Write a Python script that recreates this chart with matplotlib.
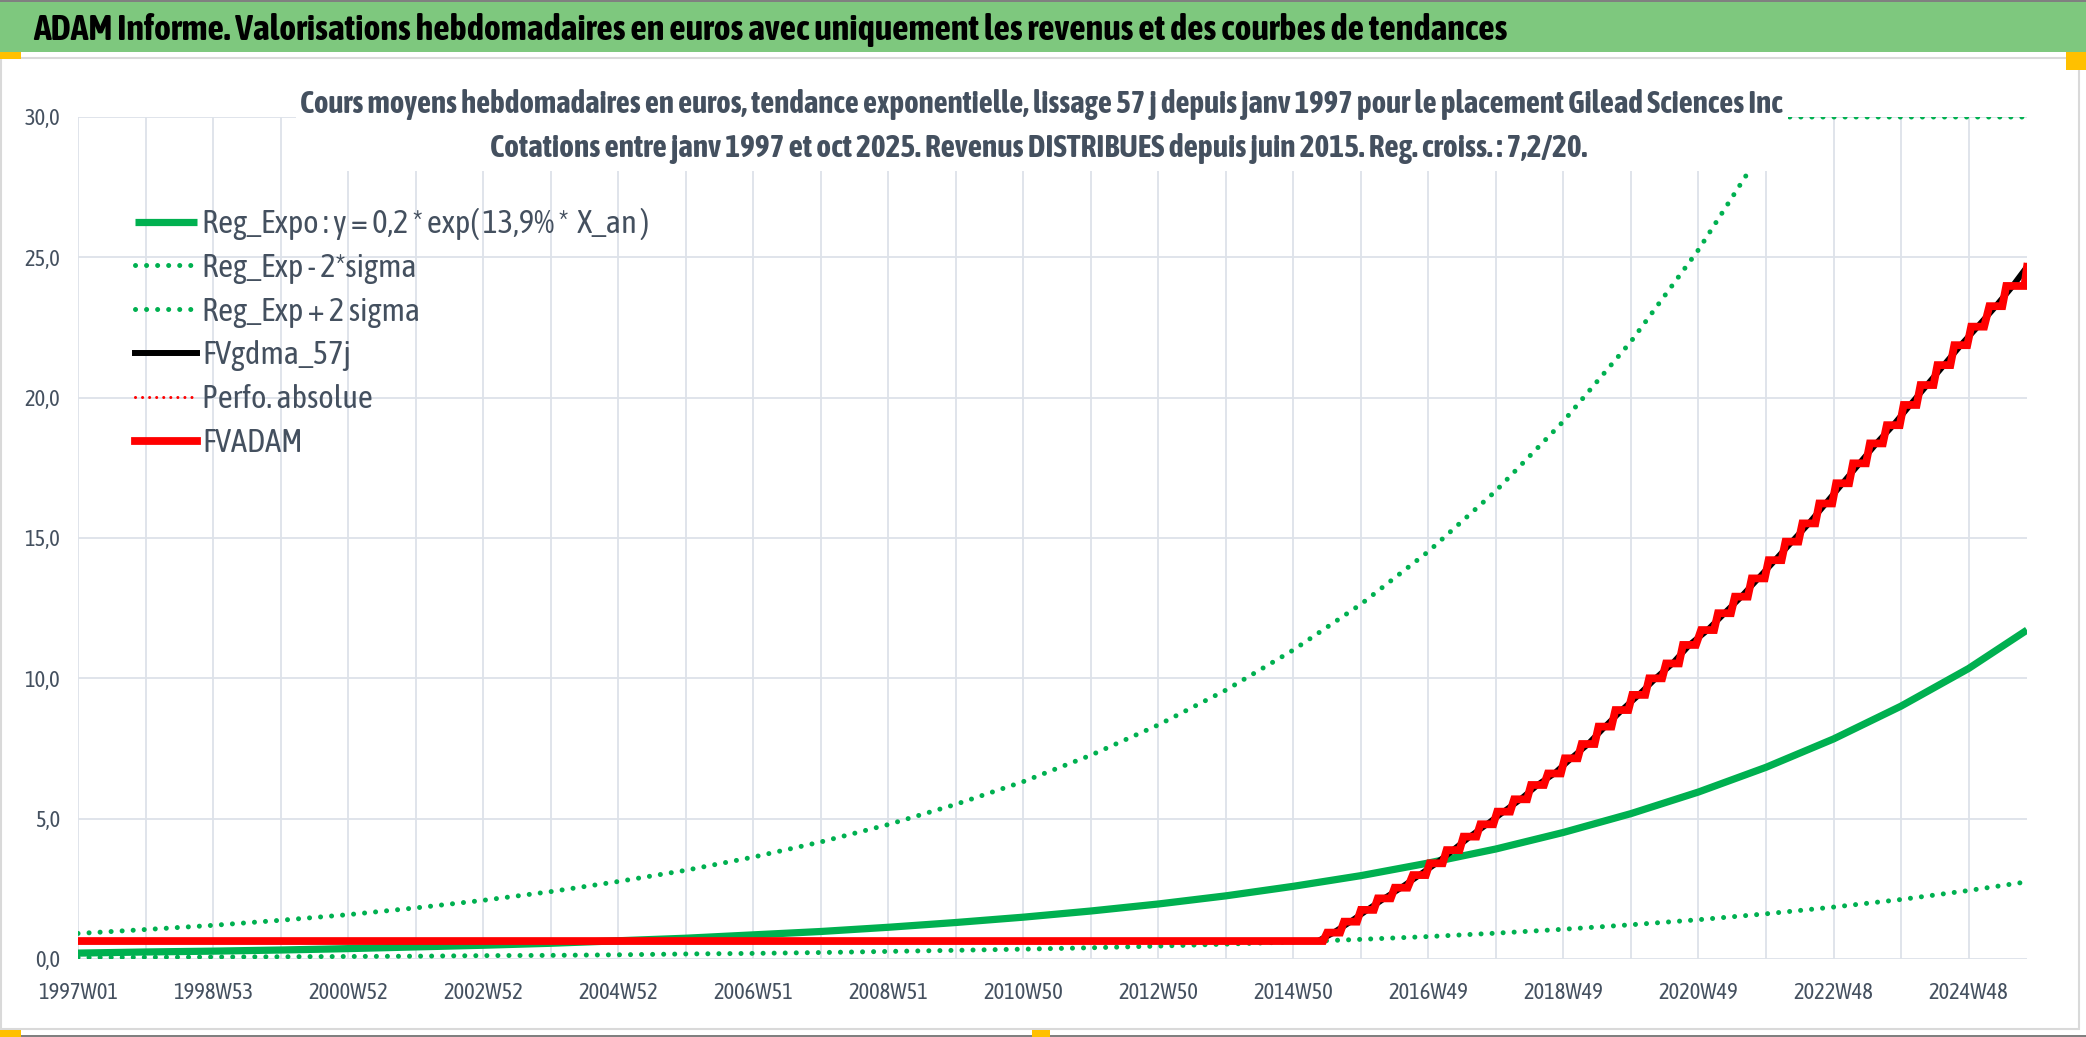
import numpy as np
import matplotlib
matplotlib.use("Agg")
import matplotlib.pyplot as plt
from matplotlib import font_manager
from matplotlib.patches import Rectangle
from matplotlib.lines import Line2D

# a condensed humanist face is closest to the squeezed Calibri of the screenshot
names = {f.name for f in font_manager.fontManager.ttflist}
FONT = next((n for n in ["Asap Condensed", "Archivo Narrow", "Liberation Sans Narrow", "Lato"] if n in names), "DejaVu Sans")
plt.rcParams["font.family"] = [FONT, "DejaVu Sans"]

W, H = 2086, 1037

# x axis = week index, 1997W01 -> 2025W42
n_weeks = 1502
tick_pos = [0, 104, 208, 312, 416, 520, 624, 728, 832, 936, 1040, 1144, 1248, 1352, 1456]
tick_labels = ["1997W01", "1998W53", "2000W52", "2002W52", "2004W52", "2006W51", "2008W51",
               "2010W50", "2012W50", "2014W50", "2016W49", "2018W49", "2020W49", "2022W48", "2024W48"]

# trend curves read at every 52 weeks (+ last week)
year_idx = [0, 52, 104, 156, 208, 260, 312, 364, 416, 468, 520, 572, 624, 676, 728, 780,
            832, 884, 936, 988, 1040, 1092, 1144, 1196, 1248, 1300, 1352, 1404, 1456, 1501]
reg_expo = [0.21, 0.25, 0.28, 0.32, 0.37, 0.43, 0.49, 0.56, 0.65, 0.74, 0.86, 0.98, 1.13, 1.30, 1.49,
            1.71, 1.96, 2.25, 2.59, 2.97, 3.42, 3.92, 4.51, 5.18, 5.95, 6.83, 7.84, 9.01, 10.35, 11.72]
reg_minus = [0.05, 0.06, 0.07, 0.08, 0.09, 0.10, 0.12, 0.13, 0.15, 0.18, 0.20, 0.23, 0.27, 0.31, 0.35,
             0.40, 0.46, 0.53, 0.61, 0.70, 0.80, 0.92, 1.06, 1.22, 1.40, 1.61, 1.85, 2.12, 2.44, 2.75]
plus_idx = [0, 52, 104, 156, 208, 260, 312, 364, 416, 468, 520, 572, 624, 676, 728, 780,
            832, 884, 936, 988, 1040, 1092, 1144, 1196, 1248, 1300, 1312, 1501]
reg_plus = [0.91, 1.05, 1.20, 1.38, 1.58, 1.82, 2.09, 2.40, 2.76, 3.16, 3.63, 4.17, 4.79, 5.51,
            6.32, 7.26, 8.34, 9.58, 11.01, 12.64, 14.52, 16.68, 19.16, 22.00, 25.27, 29.02, 30.0, 30.0]

# FVADAM : flat before first dividend, then one step per quarter
flat_level = 0.64
flat_end = 959
div_weeks = [962, 975, 988, 1001, 1014, 1028, 1041, 1054, 1067, 1080, 1093, 1106, 1119, 1132,
             1145, 1158, 1171, 1184, 1197, 1210, 1223, 1236, 1250, 1263, 1276, 1289, 1302, 1315,
             1328, 1341, 1354, 1367, 1380, 1393, 1406, 1419, 1432, 1445, 1458, 1472, 1485]
div_levels = [0.94, 1.33, 1.75, 2.16, 2.54, 2.99, 3.41, 3.88, 4.36, 4.80, 5.25, 5.69, 6.20, 6.61,
              7.15, 7.66, 8.28, 8.87, 9.41, 10.00, 10.53, 11.19, 11.72, 12.32, 12.91, 13.56, 14.21,
              14.87, 15.52, 16.23, 16.95, 17.66, 18.37, 19.02, 19.74, 20.45, 21.16, 21.87, 22.53,
              23.26, 23.98]
final_level = 24.66

legend_labels = ["Reg_Expo : y = 0,2 * exp( 13,9% *  X_an )", "Reg_Exp - 2*sigma", "Reg_Exp + 2 sigma",
                 "FVgdma_57j", "Perfo. absolue", "FVADAM"]

last_week = n_weeks - 1
red_x = [0, flat_end]
red_y = [flat_level, flat_level]
for k, (w, lv) in enumerate(zip(div_weeks, div_levels)):
    end = w + 10 if k < len(div_weeks) - 1 else last_week - 2
    red_x += [w, end]
    red_y += [lv, lv]
red_x.append(last_week)
red_y.append(final_level)

# smoothed curve under the steps
black_x = [0, flat_end - 4] + [w + 5 for w in div_weeks] + [last_week]
black_y = [flat_level, flat_level] + div_levels + [final_level]

GREEN = "#00B050"
TXT = "#44505F"
GRID = "#DDE2E9"

fig = plt.figure(figsize=(W / 100, H / 100), dpi=100)
fig.patch.set_facecolor("white")
renderer = fig.canvas.get_renderer()

def fx(x):
    return x / W

def fy(y):
    return 1 - y / H

def fit_width(t, target):
    # scale the font so the text is as wide (in px) as in the screenshot
    w = t.get_window_extent(renderer).width
    t.set_fontsize(t.get_fontsize() * target / w)
    return t

def probe(s, target, **kw):
    t = fig.text(0, 0, s, fontsize=20, **kw)
    fit_width(t, target)
    fs = t.get_fontsize()
    h = t.get_window_extent(renderer).height
    t.remove()
    return fs, h

# frame of the excel chart
fig.patches.append(Rectangle((fx(1), fy(1029)), fx(2078), (1029 - 58) / H, transform=fig.transFigure,
                             facecolor="none", edgecolor="#D9D9D9", lw=1.5, zorder=1))
fig.patches.append(Rectangle((0, fy(52)), 1, 52 / H, transform=fig.transFigure,
                             facecolor="#7EC87E", edgecolor="none", zorder=1))
fig.patches.append(Rectangle((0, fy(2)), 1, 2 / H, transform=fig.transFigure,
                             facecolor="#808080", edgecolor="none", zorder=1))
fig.patches.append(Rectangle((0, 0), 1, 2 / H, transform=fig.transFigure,
                             facecolor="#808080", edgecolor="none", zorder=1))
for (x0, y0, w0, h0) in [(0, 52, 21, 7), (2066, 52, 20, 18), (0, 1030, 21, 7), (1032, 1030, 18, 7)]:
    fig.patches.append(Rectangle((fx(x0), fy(y0 + h0)), w0 / W, h0 / H, transform=fig.transFigure,
                                 facecolor="#FFC000", edgecolor="none", zorder=2))

title = fig.text(fx(33), fy(40), "ADAM Informe. Valorisations hebdomadaires en euros avec uniquement les revenus et des courbes de tendances",
                 fontsize=26, fontweight="bold", color="black", ha="left", va="baseline", zorder=3)
fit_width(title, 1477)

ax = fig.add_axes([fx(78), fy(959), (2027 - 78) / W, (959 - 117) / H])
ax.set_zorder(2)
ax.set_facecolor("none")
ax.set_xlim(0, last_week)
ax.set_ylim(0, 30)
for s in ax.spines.values():
    s.set_visible(False)

for gx in np.arange(0, last_week, 52):
    ax.axvline(gx, color=GRID, lw=1.3, zorder=0)
for gy in range(0, 31, 5):
    ax.axhline(gy, color=GRID, lw=1.3, zorder=0)

ax.plot(plus_idx, reg_plus, color=GREEN, lw=3.6, ls=(0, (0.01, 2.2)), dash_capstyle="round", zorder=2)
ax.plot(year_idx, reg_minus, color=GREEN, lw=3.6, ls=(0, (0.01, 2.2)), dash_capstyle="round", zorder=2)
l_reg, = ax.plot(year_idx, reg_expo, color=GREEN, lw=5.2, solid_capstyle="butt", zorder=3)
l_blk, = ax.plot(black_x, black_y, color="black", lw=4.3, zorder=4)
l_perf, = ax.plot(red_x, red_y, color="red", lw=2.2, ls=(0, (0.01, 2.3)), dash_capstyle="round", zorder=4)
l_red, = ax.plot(red_x, red_y, color="red", lw=5.6, solid_joinstyle="miter", zorder=5)

# legend: ~43 px per row, first row centred at y=222, handles from x=135 to 197
leg_fs, leg_h = probe(legend_labels[0], 446)
fs_px = leg_fs * 100 / 72
h_dot = Line2D([], [], color=GREEN, lw=3.6, ls=(0, (0.01, 2.2)), dash_capstyle="round")
leg = ax.legend([l_reg, h_dot, h_dot, l_blk, l_perf, l_red], legend_labels,
                loc="upper left", bbox_to_anchor=(fx(135), fy(224 - leg_h / 2)), bbox_transform=fig.transFigure,
                frameon=False, fontsize=leg_fs, handlelength=62 / fs_px, handletextpad=5 / fs_px,
                labelspacing=max(44.8 - leg_h, 0) / fs_px, borderpad=0, borderaxespad=0)
for t in leg.get_texts():
    t.set_color(TXT)

tick_fs, tick_h = probe("1997W01", 80)
ax.set_xticks(tick_pos)
ax.set_xticklabels(tick_labels)
ax.set_yticks(range(0, 31, 5))
ax.set_yticklabels([f"{v},0" for v in range(0, 31, 5)])
ax.tick_params(axis="both", length=0, labelsize=tick_fs, labelcolor=TXT)
ax.tick_params(axis="x", pad=max(993 - tick_h / 2 - 959, 0) * 0.72)
ax.tick_params(axis="y", pad=18 * 0.72)

# sub title box sits over the plot area (hides the top of the +2 sigma curve)
fig.patches.append(Rectangle((fx(296), fy(171)), (1788 - 296) / W, (171 - 80) / H, transform=fig.transFigure,
                             facecolor="white", edgecolor="none", zorder=6))
sub1 = fig.text(fx(1041), fy(113), "Cours moyens hebdomadaires en euros, tendance exponentielle, lissage 57 j depuis janv 1997 pour le placement Gilead Sciences Inc",
                fontsize=20, fontweight="bold", color=TXT, ha="center", va="baseline", zorder=7)
sub2 = fig.text(fx(1039), fy(157), "Cotations entre janv 1997 et oct 2025. Revenus DISTRIBUES depuis juin 2015. Reg. croiss. : 7,2/20.",
                fontsize=20, fontweight="bold", color=TXT, ha="center", va="baseline", zorder=7)
fit_width(sub1, 1478)
fit_width(sub2, 1092)

fig.savefig("out.png", dpi=100)
